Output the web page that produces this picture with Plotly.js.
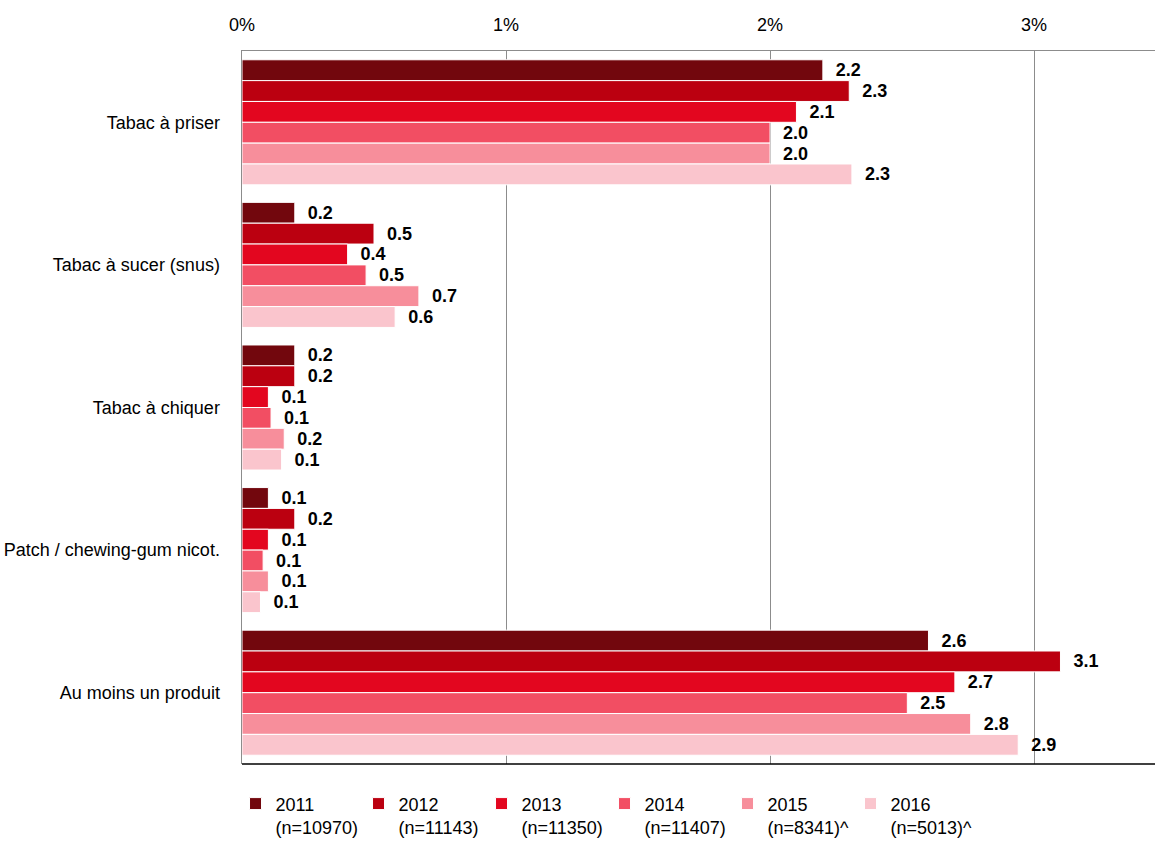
<!DOCTYPE html>
<html>
<head>
<meta charset="utf-8">
<script src="https://cdn.plot.ly/plotly-3.0.1.min.js"></script>
<style>html,body{margin:0;padding:0;background:#fff;}#chart{width:1155px;height:843px;}</style>
</head>
<body>
<div id="chart"></div>
<script>
const categories = ["Tabac à priser", "Tabac à sucer (snus)", "Tabac à chiquer", "Patch / chewing-gum nicot.", "Au moins un produit"];
const seriesNames = ["2011<br>(n=10970)", "2012<br>(n=11143)", "2013<br>(n=11350)", "2014<br>(n=11407)", "2015<br>(n=8341)^", "2016<br>(n=5013)^"];
const colors = ["#72070D", "#BB0010", "#E3061F", "#F24E63", "#F78E9B", "#FAC5CD"];
const v2011 = [2.20, 0.20, 0.20, 0.10, 2.60];
const v2012 = [2.30, 0.50, 0.20, 0.20, 3.10];
const v2013 = [2.10, 0.40, 0.10, 0.10, 2.70];
const v2014 = [2.00, 0.47, 0.11, 0.08, 2.52];
const v2015 = [2.00, 0.67, 0.16, 0.10, 2.76];
const v2016 = [2.31, 0.58, 0.15, 0.07, 2.94];
const l2011 = ["2.2", "0.2", "0.2", "0.1", "2.6"];
const l2012 = ["2.3", "0.5", "0.2", "0.2", "3.1"];
const l2013 = ["2.1", "0.4", "0.1", "0.1", "2.7"];
const l2014 = ["2.0", "0.5", "0.1", "0.1", "2.5"];
const l2015 = ["2.0", "0.7", "0.2", "0.1", "2.8"];
const l2016 = ["2.3", "0.6", "0.1", "0.1", "2.9"];
const tickVals = [0, 1, 2, 3];
const tickText = ["0%", "1%", "2%", "3%"];

const values = [v2011, v2012, v2013, v2014, v2015, v2016];
const labels = [l2011, l2012, l2013, l2014, l2015, l2016];
const FONT = "'Liberation Sans', Arial, sans-serif";

const traces = values.map((v, i) => ({
  type: 'bar',
  orientation: 'h',
  name: seriesNames[i],
  y: categories,
  x: v,
  text: labels[i],
  texttemplate: '\u00a0\u00a0%{text}',
  textposition: 'outside',
  constraintext: 'none',
  cliponaxis: false,
  textfont: {family: FONT, size: 18, color: '#000', weight: 'bold'},
  marker: {color: colors[i], line: {color: '#ffffff', width: 1}},
  hoverinfo: 'x+y'
}));

const layout = {
  width: 1155, height: 843,
  margin: {l: 242, r: 0, t: 51, b: 79, autoexpand: false},
  paper_bgcolor: '#fff', plot_bgcolor: '#fff',
  font: {family: FONT, size: 18, color: '#000'},
  barmode: 'group',
  bargap: 0.123,
  bargroupgap: 0,
  showlegend: true,
  legend: {
    orientation: 'h', x: -0.0071, xanchor: 'left', y: -0.03, yanchor: 'top',
    entrywidth: 78, entrywidthmode: 'pixels', valign: 'top',
    font: {family: FONT, size: 18, color: '#000'},
    traceorder: 'normal', itemclick: false
  },
  xaxis: {
    side: 'top', range: [0, 3.458], tickvals: tickVals, ticktext: tickText,
    showgrid: true, gridcolor: '#8c8c8c', gridwidth: 1,
    zeroline: false, showline: true, linecolor: '#8c8c8c', linewidth: 1.5,
    ticks: '', ticklabelstandoff: 11,
    tickfont: {family: FONT, size: 18, color: '#000'},
    fixedrange: true
  },
  yaxis: {
    autorange: 'reversed', type: 'category',
    showline: true, linecolor: '#8c8c8c', linewidth: 1.5,
    showgrid: false, zeroline: false, ticks: '',
    ticklabelstandoff: 17,
    tickfont: {family: FONT, size: 18, color: '#000'},
    fixedrange: true
  },
  shapes: [{type: 'line', xref: 'paper', yref: 'paper', x0: 0, x1: 1, y0: 0, y1: 0, line: {color: '#000', width: 1.5}}]
};

Plotly.newPlot('chart', traces, layout, {displayModeBar: false, staticPlot: true});
</script>
</body>
</html>
